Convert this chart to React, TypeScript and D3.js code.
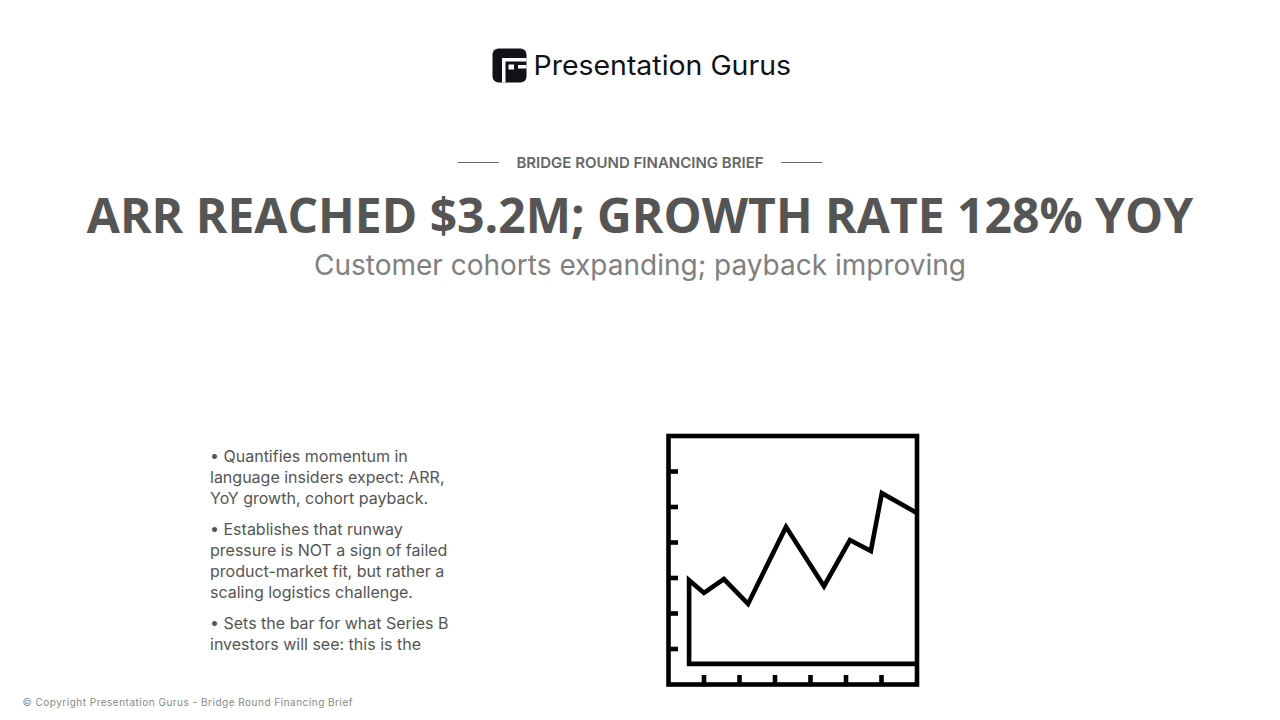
import * as d3 from "d3";

const WIDTH = 1280;
const HEIGHT = 720;

const lineX = [0.58, 1, 1.56, 2.24, 3.31, 4.38, 5.11, 5.7, 6.01, 7];
const lineY = [2.94, 2.58, 2.97, 2.27, 4.44, 2.77, 4.07, 3.76, 5.39, 4.83];
const baselineY = 0.58;
const xTicks = [1, 2, 3, 4, 5, 6];
const yTicks = [1, 2, 3, 4, 5, 6];

const eyebrow = "BRIDGE ROUND FINANCING BRIEF";
const title = "ARR REACHED $3.2M; GROWTH RATE 128% YOY";
const subtitle = "Customer cohorts expanding; payback improving";
const footer = "© Copyright Presentation Gurus - Bridge Round Financing Brief";
const bulletLines = [
  { text: "• Quantifies momentum in", y: 462 },
  { text: "language insiders expect: ARR,", y: 483 },
  { text: "YoY growth, cohort payback.", y: 504 },
  { text: "• Establishes that runway", y: 535 },
  { text: "pressure is NOT a sign of failed", y: 556 },
  { text: "product-market fit, but rather a", y: 577 },
  { text: "scaling logistics challenge.", y: 598 },
  { text: "• Sets the bar for what Series B", y: 629 },
  { text: "investors will see: this is the", y: 650 },
];

const x = d3.scaleLinear([0, 7], [668.5, 917]);
const y = d3.scaleLinear([0, 7], [684.5, 436]);

function Logo() {
  return (
    <g>
      <rect x={492.5} y={48.5} width={34} height={34} rx={6} fill="#101217" />
      <path d="M502 58 H526.5 V61.5 H505.5 V82.5 H502 Z" fill="#fff" />
      <rect x={508.5} y={64.5} width={5.5} height={5} fill="#fff" />
      <path d="M518 65 H526.5 V68.5 H518 Z" fill="#fff" />
      <text
        x={533.5}
        y={75}
        fontFamily="Inter, sans-serif"
        fontWeight={400}
        fontSize={27}
        fill="#101217"
        textLength={257.5}
        lengthAdjust="spacingAndGlyphs"
      >
        Presentation Gurus
      </text>
    </g>
  );
}

function ChartIcon() {
  const line = d3.line<number>(
    (_, i) => x(lineX[i]),
    (d) => y(d)
  );
  const pts = line(lineY) || "";
  const trace = `M${x(7)},${y(baselineY)}L${x(lineX[0])},${y(baselineY)}L${pts.slice(1)}`;
  return (
    <g stroke="#000" strokeWidth={4.6} fill="none">
      <rect x={x(0)} y={y(7)} width={x(7) - x(0)} height={y(0) - y(7)} />
      <path d={trace} strokeLinejoin="miter" />
      {xTicks.map((t) => (
        <line key={t} x1={x(t)} x2={x(t)} y1={y(0)} y2={y(0) - 9.5} />
      ))}
      {yTicks.map((t) => (
        <line key={t} x1={x(0)} x2={x(0) + 9.5} y1={y(t)} y2={y(t)} />
      ))}
    </g>
  );
}

export default function App() {
  return (
    <svg
      width={WIDTH}
      height={HEIGHT}
      viewBox={`0 0 ${WIDTH} ${HEIGHT}`}
      style={{ position: "fixed", left: 0, top: 0, background: "#fff" }}
    >
      <g opacity={0.999}>
        <Logo />
        <line x1={458} x2={499} y1={162.5} y2={162.5} stroke="#666" />
        <line x1={781} x2={822} y1={162.5} y2={162.5} stroke="#666" />
        <text
          x={640}
          y={168}
          textAnchor="middle"
          fontFamily="Inter, sans-serif"
          fontWeight={600}
          fontSize={15}
          fill="#666"
        >
          {eyebrow}
        </text>
        <text
          x={640}
          y={232.5}
          textAnchor="middle"
          fontFamily="'Open Sans', sans-serif"
          fontWeight={700}
          fontSize={48}
          fill="#555"
        >
          {title}
        </text>
        <text
          x={640}
          y={275}
          textAnchor="middle"
          fontFamily="Inter, sans-serif"
          fontSize={28}
          fill="#808080"
        >
          {subtitle}
        </text>
        <g fontFamily="Inter, sans-serif" fontSize={16} fill="#555">
          {bulletLines.map((l) => (
            <text key={l.text} x={210} y={l.y}>
              {l.text}
            </text>
          ))}
        </g>
        <ChartIcon />
        <text
          x={22.5}
          y={706}
          fontFamily="Inter, sans-serif"
          fontSize={10}
          letterSpacing={0.5}
          fill="#888"
        >
          {footer}
        </text>
      </g>
    </svg>
  );
}
